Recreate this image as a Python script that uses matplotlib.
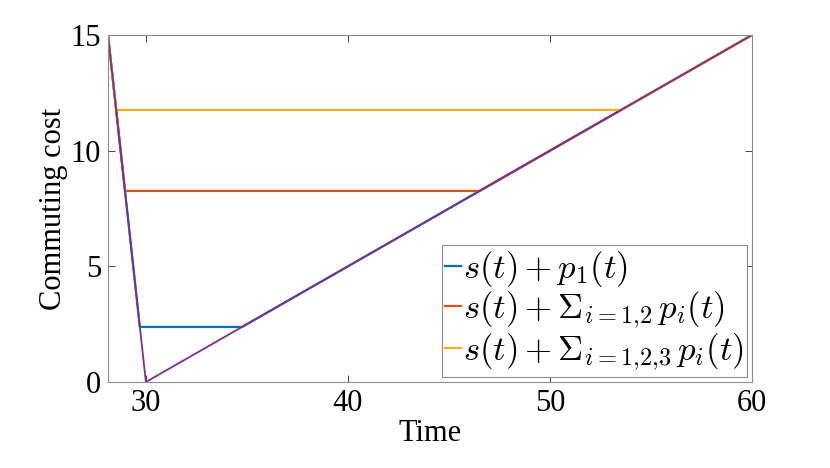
import numpy as np
import matplotlib.pyplot as plt

plt.rcParams['font.family'] = ['Liberation Serif', 'DejaVu Serif']
plt.rcParams['mathtext.fontset'] = 'cm'

# schedule delay s(t)
t_s = [28.125, 30.0, 60.0]
s_vals = [15.0, 0.0, 15.0]

# flat parts of s(t)+sum p_i(t)
levels = [2.38, 8.26, 11.76]
t_start = [29.70, 28.97, 28.53]
t_end = [34.76, 46.52, 53.52]
labels = [r'$s(t)+p_1(t)$',
          r'$s(t)+\Sigma_{i{=}1{,}2}\,p_i(t)$',
          r'$s(t)+\Sigma_{i{=}1{,}2{,}3}\,p_i(t)$']
colors = ['#0072BD', '#D95319', '#EDB120']
purple = '#7E2F8E'

fig = plt.figure(figsize=(8.3, 4.68), dpi=100)
ax = fig.add_axes([108 / 830, 1 - 382 / 468, 644 / 830, 347 / 468])

for lev, a, b, lab, c in zip(levels, t_start, t_end, labels, colors):
    tt = [t_s[0], a, b, t_s[2]]
    yy = [s_vals[0], lev, lev, s_vals[2]]
    ax.plot(tt, yy, color=c, lw=1.6, label=lab)
ax.plot(t_s, s_vals, color=purple, lw=1.3)

ax.set_xlim(28.125, 60)
ax.set_ylim(0, 15)
ax.set_xticks([30, 40, 50, 60])
ax.set_yticks([0, 5, 10, 15])
ax.tick_params(direction='in', top=True, right=True, labelsize=22,
               color='#262626', length=5, width=0.6, pad=5)
for sp in ax.spines.values():
    sp.set_color('#8c8c8c')
    sp.set_linewidth(0.8)
ax.set_xlabel('Time', fontsize=22, labelpad=1)
ax.set_ylabel('Commuting cost', fontsize=22, labelpad=2)

leg = ax.legend(loc='lower right', fontsize=25, handlelength=0.45,
                handletextpad=0.05, borderpad=0.1, labelspacing=0.02,
                fancybox=False, framealpha=1, borderaxespad=0.15)
leg.get_frame().set_edgecolor('#8c8c8c')
leg.get_frame().set_linewidth(0.8)

fig.savefig('out.png', dpi=100)
